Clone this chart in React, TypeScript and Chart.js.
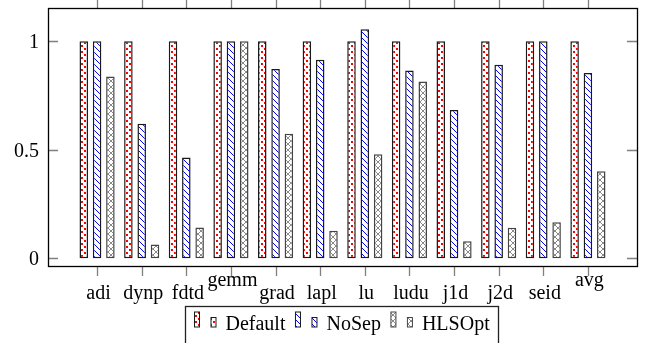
import React, { useEffect, useRef } from 'react';
import { Chart, registerables } from 'chart.js';

Chart.register(...registerables);

const categories = ['adi', 'dynp', 'fdtd', 'gemm', 'grad', 'lapl', 'lu', 'ludu', 'j1d', 'j2d', 'seid', 'avg'];
const seriesNames = ['Default', 'NoSep', 'HLSOpt'];
const defaultValues = [1, 1, 1, 1, 1, 1, 1, 1, 1, 1, 1, 1];
const noSepValues = [1, 0.619, 0.464, 1, 0.872, 0.914, 1.055, 0.865, 0.683, 0.891, 1, 0.853];
const hlsOptValues = [0.837, 0.063, 0.141, 1, 0.574, 0.126, 0.479, 0.814, 0.078, 0.14, 0.166, 0.401];
const yTicks = [0, 0.5, 1];
const yTickLabels = ['0', '0.5', '1'];

const FONT = '20px "Liberation Serif", "DejaVu Serif", serif';

function makeTile(draw: (c: CanvasRenderingContext2D) => void, size: number): CanvasPattern {
  const t = document.createElement('canvas');
  t.width = size;
  t.height = size;
  const c = t.getContext('2d')!;
  c.fillStyle = '#ffffff';
  c.fillRect(0, 0, size, size);
  draw(c);
  const main = document.createElement('canvas').getContext('2d')!;
  return main.createPattern(t, 'repeat')!;
}

function makePatterns(): CanvasPattern[] {
  const dots = makeTile((c) => {
    c.fillStyle = '#ff0000';
    c.fillRect(0, 0, 2, 2);
    c.fillRect(3, 3, 2, 2);
  }, 6);
  const lines = makeTile((c) => {
    c.fillStyle = '#0000ff';
    for (let i = 0; i < 6; i++) c.fillRect(i, i, 1, 1);
  }, 6);
  const cross = makeTile((c) => {
    c.fillStyle = '#8a8a8a';
    for (let i = 0; i < 6; i++) {
      c.fillRect(i, i, 1, 1);
      c.fillRect(i, 5 - i, 1, 1);
    }
  }, 6);
  return [dots, lines, cross];
}

const borderColors = ['#1a1a1a', '#1a1a1a', '#444444'];

export default function App() {
  const ref = useRef<HTMLCanvasElement | null>(null);

  useEffect(() => {
    document.body.style.margin = '0';
    const canvas = ref.current!;
    const patterns = makePatterns();
    const seriesValues = [defaultValues, noSepValues, hlsOptValues];

    const overlay = {
      id: 'pgfOverlay',
      afterDraw(chart: any) {
        const ctx: CanvasRenderingContext2D = chart.ctx;
        const { left, right, top, bottom } = chart.chartArea;
        const xs = chart.scales.x;
        const ys = chart.scales.y;
        const tickLen = 10;
        ctx.save();
        // ticks
        ctx.strokeStyle = '#808080';
        ctx.lineWidth = 1.3;
        ctx.beginPath();
        yTicks.forEach((v) => {
          const py = Math.round(ys.getPixelForValue(v)) + 0.5;
          ctx.moveTo(left, py);
          ctx.lineTo(left + tickLen, py);
          ctx.moveTo(right - tickLen, py);
          ctx.lineTo(right, py);
        });
        categories.forEach((_, i) => {
          const px = Math.round(xs.getPixelForValue(i)) + 0.5;
          ctx.moveTo(px, top - tickLen);
          ctx.lineTo(px, top);
          ctx.moveTo(px, bottom);
          ctx.lineTo(px, bottom + tickLen);
        });
        ctx.stroke();
        // frame
        ctx.strokeStyle = '#000000';
        ctx.lineWidth = 1.3;
        ctx.strokeRect(Math.round(left) + 0.5, Math.round(top) + 0.5, Math.round(right - left), Math.round(bottom - top));
        // y labels
        ctx.fillStyle = '#000000';
        ctx.font = FONT;
        ctx.textAlign = 'right';
        ctx.textBaseline = 'alphabetic';
        yTicks.forEach((v, i) => {
          const py = ys.getPixelForValue(v);
          ctx.fillText(yTickLabels[i], left - 9, py + 7);
        });
        // x labels (pgfplots-like placement)
        ctx.textAlign = 'center';
        categories.forEach((lab, i) => {
          const px = xs.getPixelForValue(i);
          const tall = /[bdfhklt0-9A-Z]/.test(lab);
          ctx.fillText(lab, px + 1.5, bottom + (tall ? 33 : 20));
        });
        // legend
        const iconBlock = 31;
        const gap = 10;
        const pad = 9;
        const textWidths = seriesNames.map((n) => ctx.measureText(n).width);
        const total = pad * 2 + seriesNames.length * iconBlock + textWidths.reduce((a, b) => a + b, 0) + gap * (seriesNames.length - 1);
        const boxLeft = Math.round((left + right) / 2 - total / 2 - 1) + 0.5;
        const boxTop = 306.5;
        ctx.strokeStyle = '#222222';
        ctx.lineWidth = 1.3;
        ctx.strokeRect(boxLeft, boxTop, Math.round(total), 45);
        let x = boxLeft + pad;
        ctx.textAlign = 'left';
        seriesNames.forEach((n, k) => {
          ctx.fillStyle = patterns[k];
          ctx.fillRect(x, 312, 5, 15);
          ctx.fillRect(x + 16.5, 317.5, 5, 9.5);
          ctx.strokeStyle = borderColors[k];
          ctx.lineWidth = 1;
          ctx.strokeRect(x, 312, 5, 15);
          ctx.strokeRect(x + 16.5, 317.5, 5, 9.5);
          ctx.fillStyle = '#000000';
          ctx.fillText(n, x + iconBlock, 330);
          x += iconBlock + textWidths[k] + gap;
        });
        ctx.restore();
      },
    };

    const chart = new Chart(canvas, {
      type: 'bar',
      data: {
        datasets: seriesValues.map((vals, k) => ({
          label: seriesNames[k],
          data: vals.map((v, i) => ({ x: i, y: v })),
          backgroundColor: patterns[k],
          borderColor: borderColors[k],
          borderWidth: 1.5,
          borderSkipped: false,
          categoryPercentage: 0.895,
          barPercentage: 0.64,
        })),
      },
      options: {
        responsive: false,
        animation: false,
        devicePixelRatio: 1,
        layout: { padding: { left: 48, top: 8, right: 13, bottom: 77 } },
        scales: {
          x: {
            type: 'linear',
            min: -1.1,
            max: 12.1,
            offset: false,
            display: false,
            afterBuildTicks: (scale: any) => {
              scale.ticks = categories.map((_, i) => ({ value: i }));
            },
          },
          y: {
            type: 'linear',
            min: -0.036,
            max: 1.153,
            display: false,
          },
        },
        plugins: {
          legend: { display: false },
          tooltip: { enabled: false },
        },
      },
      plugins: [overlay],
    } as any);

    return () => chart.destroy();
  }, []);

  return (
    <div style={{ width: 650, height: 343, background: '#ffffff' }}>
      <canvas ref={ref} width={650} height={343} style={{ display: 'block' }} />
    </div>
  );
}
